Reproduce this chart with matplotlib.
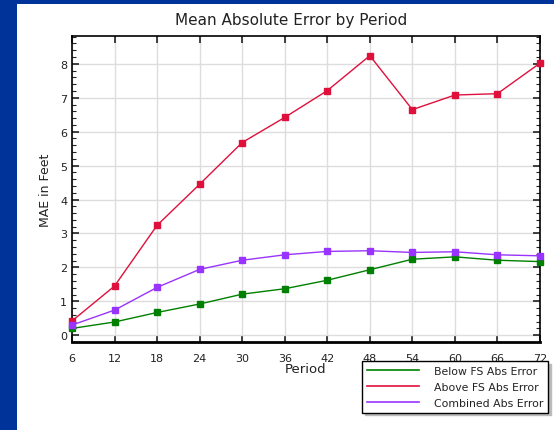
import matplotlib.pyplot as plt
from matplotlib.patches import Rectangle
from matplotlib.lines import Line2D
from matplotlib.ticker import MultipleLocator

# data
periods = [6, 12, 18, 24, 30, 36, 42, 48, 54, 60, 66, 72]
below_fs = [0.20, 0.39, 0.67, 0.92, 1.21, 1.37, 1.62, 1.93, 2.24, 2.31, 2.21, 2.17]
above_fs = [0.42, 1.45, 3.24, 4.45, 5.68, 6.42, 7.21, 8.24, 6.65, 7.08, 7.12, 8.02]
combined = [0.30, 0.74, 1.41, 1.94, 2.21, 2.37, 2.47, 2.49, 2.44, 2.46, 2.37, 2.34]
labels = ['Below FS Abs Error', 'Above FS Abs Error', 'Combined Abs Error']
colors = ['#008000', '#E0103C', '#9933FF']

fig = plt.figure(figsize=(5.54, 4.31), dpi=100)
fig.patch.set_facecolor('#003399')
# white panel on the blue slide background
fig.patches.append(Rectangle((17 / 554, 0), 1, (431 - 5) / 431, transform=fig.transFigure,
                             facecolor='white', edgecolor='none', zorder=-5))

ax = fig.add_axes([72 / 554, 1 - 343 / 431, (540 - 72) / 554, (343 - 37) / 431])
for vals, c, lab in zip([below_fs, above_fs, combined], colors, labels):
    ax.plot(periods, vals, color=c, marker='s', markersize=4.5, lw=1, label=lab, zorder=3, clip_on=False)

ax.set_xlim(6, 72)
ax.set_ylim(-0.2, 8.82)
ax.set_xticks(periods)
ax.yaxis.set_major_locator(MultipleLocator(1))
ax.yaxis.set_minor_locator(MultipleLocator(0.2))
ax.tick_params(axis='both', which='both', direction='in', top=True, right=True, labelsize=8, colors='#222222')
ax.tick_params(axis='x', which='major', length=5, width=1.2, pad=8)
ax.tick_params(axis='y', which='major', length=5, width=1.2)
ax.tick_params(axis='y', which='minor', length=3, width=0.8)
ax.grid(True, which='major', color='#dddddd', lw=1, zorder=0)
for s in ax.spines.values():
    s.set_linewidth(1.2)
ax.spines['bottom'].set_linewidth(2)

ax.set_xlabel('Period', fontsize=9.5, labelpad=-1, color='#222222')
ax.set_ylabel('MAE in Feet', fontsize=9, labelpad=6, color='#222222')
fig.text(291 / 554, 1 - 20 / 431, 'Mean Absolute Error by Period', ha='center', va='center',
         fontsize=11, color='#222222')

# legend shows plain lines, no markers
handles = [Line2D([], [], color=c, lw=1.2) for c in colors]
leg = fig.legend(handles, labels, loc='upper left', bbox_to_anchor=(362 / 554, 1 - 362 / 431),
                 fontsize=7.8, fancybox=False, shadow={'color': '#bbbbbb', 'alpha': 1},
                 edgecolor='black', framealpha=1, borderpad=0.45, handlelength=4.8,
                 handletextpad=1.4, labelspacing=0.55, borderaxespad=0)
leg.get_frame().set_linewidth(1)
for t in leg.get_texts():
    t.set_color('#222222')

fig.savefig('out.png', dpi=100, facecolor=fig.get_facecolor())
